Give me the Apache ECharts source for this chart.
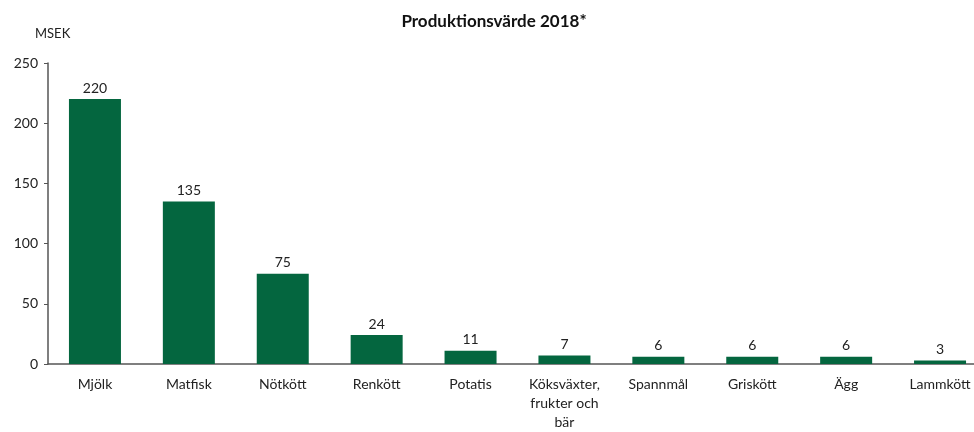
<!DOCTYPE html>
<html><head><meta charset="utf-8">
<script src="https://cdn.jsdelivr.net/npm/echarts@6/dist/echarts.min.js"></script>
<style>html,body{margin:0;padding:0;background:#fff;overflow:hidden;width:974px;height:432px}#c{width:987px;height:432px}</style>
</head><body><div id="c"></div>
<script>
const categories = ['Mjölk','Matfisk','Nötkött','Renkött','Potatis','Köksväxter,\nfrukter och\nbär','Spannmål','Griskött','Ägg','Lammkött'];
const values = [220,135,75,24,11,7,6,6,6,3];
const yTicks = [0,50,100,150,200,250];
const FONT = 'Lato, "Open Sans", sans-serif';
const chart = echarts.init(document.getElementById('c'), null, {renderer:'canvas'});
chart.setOption({
  animation:false,
  backgroundColor:'#fff',
  title:[{text:'Produktionsvärde 2018*',left:489,top:8,textAlign:'center',textStyle:{fontFamily:FONT,fontSize:17,fontWeight:'bold',color:'#111'}},
         {text:'MSEK',left:30,top:22,textStyle:{fontFamily:FONT,fontSize:13,fontWeight:'normal',color:'#222'}}],
  grid:{left:48,right:0,top:63,bottom:65,containLabel:false},
  xAxis:{type:'category',data:categories,
    axisLine:{lineStyle:{color:'#555',width:1.5}},axisTick:{show:false},
    axisLabel:{fontFamily:FONT,fontSize:14,color:'#222',margin:11,lineHeight:19,interval:0}},
  yAxis:{type:'value',min:yTicks[0],max:yTicks[yTicks.length-1],interval:50,
    axisLine:{show:true,lineStyle:{color:'#555',width:1.5}},
    axisTick:{show:true,inside:false,length:4,lineStyle:{color:'#555'}},
    splitLine:{show:false},
    axisLabel:{fontFamily:FONT,fontSize:14,color:'#222',margin:10}},
  series:[{type:'bar',data:values,barWidth:52,itemStyle:{color:'#04663F'},
    label:{show:true,position:'top',distance:4,fontFamily:FONT,fontSize:14,color:'#222'}}]
});
</script></body></html>
